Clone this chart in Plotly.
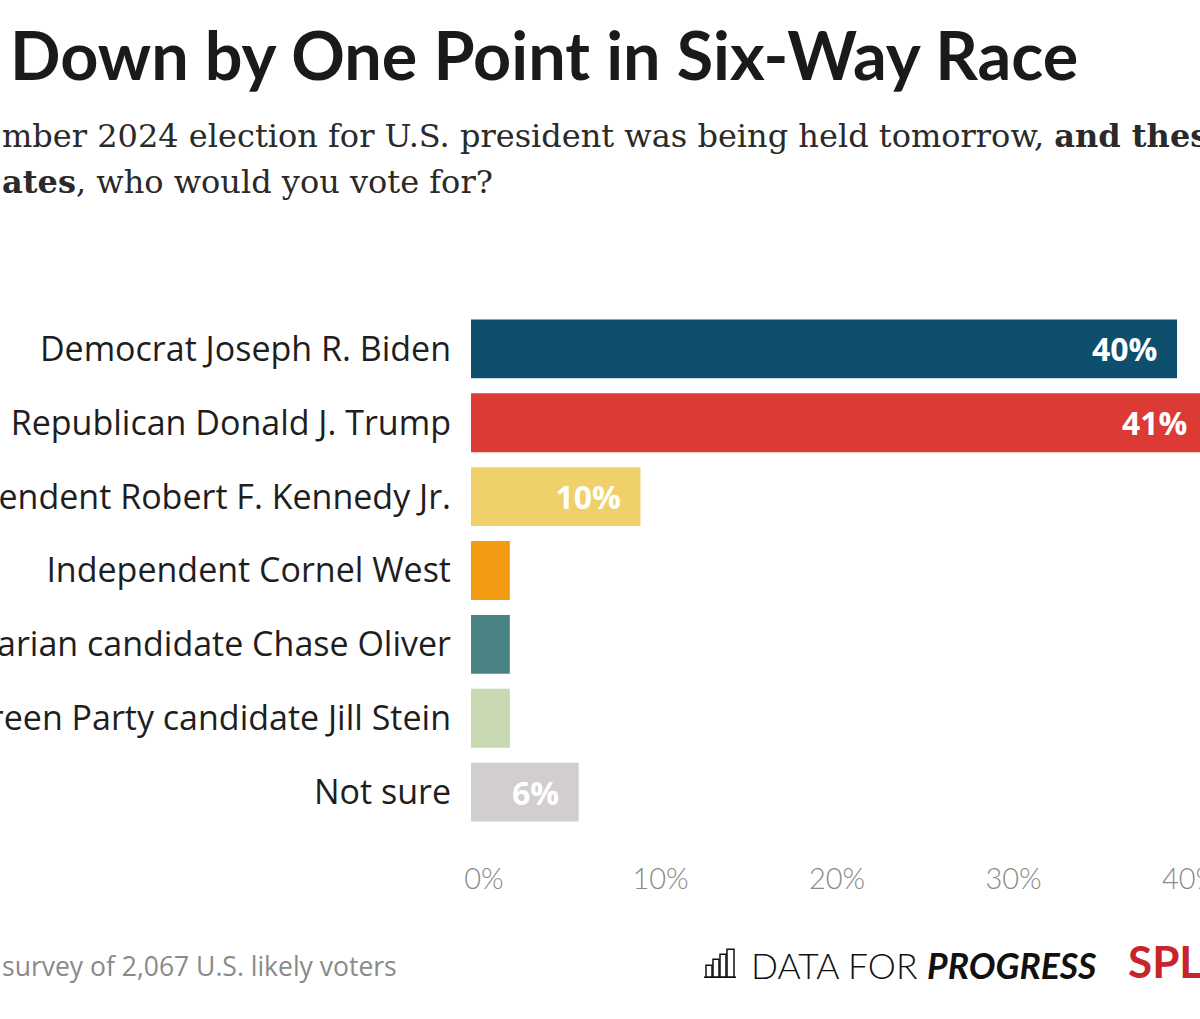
import plotly.graph_objects as go

# ---- data ----
categories = [
    "Democrat Joseph R. Biden",
    "Republican Donald J. Trump",
    "Independent Robert F. Kennedy Jr.",
    "Independent Cornel West",
    "Libertarian candidate Chase Oliver",
    "Green Party candidate Jill Stein",
    "Not sure",
]
values = [40.0, 41.7, 9.6, 2.2, 2.2, 2.2, 6.1]
value_labels = ["40%", "41%", "10%", "", "", "", "6%"]
colors = ["#0e4f6d", "#db3a35", "#f0d069", "#f39c13", "#4b8385", "#c8d8b1", "#d1cdd1"]
tick_vals = [0, 10, 20, 30, 40]
tick_text = ["0%", "10%", "20%", "30%", "40%"]

W, H = 1200, 1019
L, R, T, B = 471, 0, 311.5, 189.5
XMAX = 41.3
PW, PH = W - L - R, H - T - B

def px_x(x):
    return (x - L) / PW

def px_y(y):
    return (H - B - y) / PH

NB = "\u00a0"
texts = [t + NB * 2 if t else "" for t in value_labels]

fig = go.Figure(
    go.Bar(
        x=values,
        y=categories,
        orientation="h",
        marker=dict(color=colors, line=dict(width=0)),
        text=texts,
        textposition="inside",
        insidetextanchor="end",
        textfont=dict(family="Open Sans", size=32, color="white", weight=700),
        cliponaxis=True,
        hoverinfo="skip",
    )
)

fig.update_layout(
    width=W,
    height=H,
    margin=dict(l=L, r=R, t=T, b=B, autoexpand=False),
    paper_bgcolor="white",
    plot_bgcolor="white",
    bargap=0.203,
    showlegend=False,
    xaxis=dict(
        range=[0, XMAX],
        tickvals=tick_vals,
        ticktext=tick_text,
        showgrid=False,
        zeroline=False,
        showline=False,
        ticks="",
        tickfont=dict(family="Lato", size=29, color="#8a8a8a", weight=300),
        ticklabelstandoff=30,
        ticklabelshift=13,
        ticklabeloverflow="allow",
        automargin=False,
        fixedrange=True,
    ),
    yaxis=dict(
        autorange="reversed",
        showgrid=False,
        zeroline=False,
        showline=False,
        ticks="",
        tickfont=dict(family="Open Sans", size=34, color="#1e1e1e"),
        ticklabelstandoff=19,
        automargin=False,
        fixedrange=True,
    ),
)

ann = [
    dict(text="Down by One Point in Six-Way Race", x=px_x(8), y=px_y(53), xanchor="left", yanchor="middle",
         font=dict(family="Lato", size=66.5, color="#1a1a1a", weight=700)),
    dict(text="mber 2024 election for U.S. president was being held tomorrow, <b>and these</b>",
         x=px_x(0), y=px_y(135), xanchor="left", yanchor="middle",
         font=dict(family="DejaVu Serif", size=32, color="#2a2a2a")),
    dict(text="<b>ates</b>, who would you vote for?",
         x=px_x(0), y=px_y(181), xanchor="left", yanchor="middle",
         font=dict(family="DejaVu Serif", size=32, color="#2a2a2a")),
    dict(text="survey of 2,067 U.S. likely voters", x=px_x(0), y=px_y(967), xanchor="left", yanchor="middle",
         font=dict(family="Open Sans", size=26.5, color="#8a8a8a")),
    dict(text="DATA FOR <b><i>PROGRESS</i></b>", x=px_x(749), y=px_y(966), xanchor="left", yanchor="middle",
         font=dict(family="Lato", size=35.5, color="#111111", weight=300)),
    dict(text="<b>SPL</b>", x=px_x(1126), y=px_y(962), xanchor="left", yanchor="middle",
         font=dict(family="Lato", size=44, color="#c9232b")),
]
for a in ann:
    a.update(xref="paper", yref="paper", showarrow=False)
fig.update_layout(annotations=ann)

# small bar-chart logo icon (decoration)
icon = [(706, 966, 712, 978), (713, 960, 719, 978), (720, 955, 726, 978), (727, 950, 734, 978)]
shapes = []
for x0, y0, x1, y1 in icon:
    shapes.append(dict(type="rect", xref="paper", yref="paper",
                       x0=px_x(x0), x1=px_x(x1), y0=px_y(y1), y1=px_y(y0),
                       line=dict(color="#111111", width=1.5), fillcolor="rgba(0,0,0,0)"))
shapes.append(dict(type="line", xref="paper", yref="paper", x0=px_x(704), x1=px_x(736),
                   y0=px_y(978), y1=px_y(978), line=dict(color="#111111", width=1.5)))
fig.update_layout(shapes=shapes)

fig.write_html("out.html", config={"displayModeBar": False},
               post_script="document.body.style.margin='0';document.body.style.overflow='hidden';")
